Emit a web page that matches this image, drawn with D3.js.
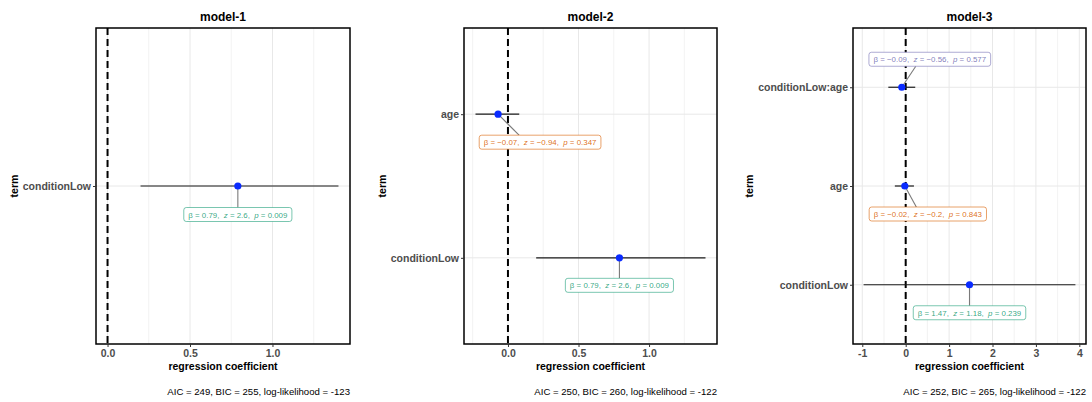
<!DOCTYPE html>
<html>
<head>
<meta charset="utf-8">
<script src="https://cdn.jsdelivr.net/npm/d3@7"></script>
<style>
  html, body { margin: 0; padding: 0; background: #ffffff; }
  svg { display: block; font-family: "Liberation Sans", Arial, sans-serif; }
</style>
</head>
<body>
<svg id="chart" width="1092" height="402"></svg>
<script>
// ---- model results ----
const modelNames = ["model-1", "model-2", "model-3"];
const modelTerms = [
  ["conditionLow"],
  ["conditionLow", "age"],
  ["conditionLow", "age", "conditionLow:age"]
];
const estimates = [[0.79], [0.79, -0.07], [1.47, -0.02, -0.09]];
const ciLower   = [[0.20], [0.20, -0.23], [-0.97, -0.25, -0.40]];
const ciUpper   = [[1.40], [1.40, 0.08], [3.91, 0.19, 0.22]];
const zValues   = [[2.6], [2.6, -0.94], [1.18, -0.2, -0.56]];
const pValues   = ["0.009", "0.009", "0.347", "0.239", "0.843", "0.577"];
const tickValues = [[0, 0.5, 1.0], [0, 0.5, 1.0], [-1, 0, 1, 2, 3, 4]];
const tickLabels = [["0.0", "0.5", "1.0"], ["0.0", "0.5", "1.0"], ["-1", "0", "1", "2", "3", "4"]];
const captions = [
  "AIC = 249, BIC = 255, log-likelihood = -123",
  "AIC = 250, BIC = 260, log-likelihood = -122",
  "AIC = 252, BIC = 265, log-likelihood = -122"
];
const termColors = ["#1B9E77", "#D95F02", "#7570B3"];

// ---- layout ----
const panelBoxes = [
  { left: 96,  right: 350 },
  { left: 464, right: 717 },
  { left: 853, right: 1086 }
];
const panelTop = 28, panelBottom = 344;
// label box offsets from each point (px), per panel / term
const labelOffsets = [
  [[0, 28.5]],
  [[0, 27.5], [42, 28]],
  [[0, 28], [23, 28], [28, -28]]
];

const svg = d3.select("#chart");
const fmtNum = v => (v < 0 ? "\u2212" : "") + String(Math.abs(v));
let pIndex = 0;

modelNames.forEach((name, m) => {
  const box = panelBoxes[m];
  const terms = modelTerms[m];
  const est = estimates[m], lo = ciLower[m], hi = ciUpper[m];

  // x domain: data range including zero, expanded by 5%
  const minV = Math.min(0, d3.min(lo)), maxV = Math.max(0, d3.max(hi));
  const pad = (maxV - minV) * 0.05;
  const x = d3.scaleLinear().domain([minV - pad, maxV + pad]).range([box.left, box.right]);

  // discrete y with 0.6 expansion on each side
  const y = d3.scaleLinear()
    .domain([1 - 0.6, terms.length + 0.6])
    .range([panelBottom, panelTop]);
  const yOf = i => y(i + 1);

  const g = svg.append("g");

  // grid
  const ticks = tickValues[m];
  const step = ticks[1] - ticks[0];
  const minor = [];
  for (let v = ticks[0] - step / 2; v <= x.domain()[1]; v += step) {
    if (v >= x.domain()[0]) minor.push(v);
  }
  g.selectAll(".minor").data(minor).enter().append("line")
    .attr("x1", d => x(d)).attr("x2", d => x(d))
    .attr("y1", panelTop).attr("y2", panelBottom)
    .attr("stroke", "#EFEFEF").attr("stroke-width", 0.8);
  g.selectAll(".major").data(ticks).enter().append("line")
    .attr("x1", d => x(d)).attr("x2", d => x(d))
    .attr("y1", panelTop).attr("y2", panelBottom)
    .attr("stroke", "#E8E8E8").attr("stroke-width", 1);
  g.selectAll(".hgrid").data(terms).enter().append("line")
    .attr("x1", box.left).attr("x2", box.right)
    .attr("y1", (d, i) => yOf(i)).attr("y2", (d, i) => yOf(i))
    .attr("stroke", "#E8E8E8").attr("stroke-width", 1);

  // zero reference line
  g.append("line")
    .attr("x1", x(0)).attr("x2", x(0))
    .attr("y1", panelTop).attr("y2", panelBottom)
    .attr("stroke", "#000").attr("stroke-width", 2)
    .attr("stroke-dasharray", "7,4");

  // confidence intervals
  g.selectAll(".ci").data(terms).enter().append("line")
    .attr("x1", (d, i) => x(lo[i])).attr("x2", (d, i) => x(hi[i]))
    .attr("y1", (d, i) => yOf(i)).attr("y2", (d, i) => yOf(i))
    .attr("stroke", "#1a1a1a").attr("stroke-width", 1.2);

  // labels with connectors
  terms.forEach((t, i) => {
    const px = x(est[i]), py = yOf(i);
    const [dx, dy] = labelOffsets[m][i];
    const cx = px + dx, cy = py + dy;
    const color = termColors[i];
    const lg = g.append("g");
    const txt = lg.append("text")
      .attr("x", cx).attr("y", cy + 3)
      .attr("text-anchor", "middle")
      .attr("font-size", 7.9)
      .style("white-space", "pre")
      .attr("fill", color).attr("fill-opacity", 0.9);
    txt.append("tspan").text("\u03B2 = " + fmtNum(est[i]) + ",  ");
    txt.append("tspan").attr("font-style", "italic").text("z");
    txt.append("tspan").text(" = " + fmtNum(zValues[m][i]) + ",  ");
    txt.append("tspan").attr("font-style", "italic").text("p");
    txt.append("tspan").text(" = " + pValues[pIndex++]);
    const w = txt.node().getComputedTextLength() + 9;
    const h = 14;
    const top = cy - h / 2, bottom = cy + h / 2;
    // connector to the box edge facing the point
    const ex = px + dx * 0.5;
    const ey = dy > 0 ? top : bottom;
    lg.insert("line", "text")
      .attr("x1", px).attr("y1", py).attr("x2", ex).attr("y2", ey)
      .attr("stroke", "#7a7a7a").attr("stroke-width", 1.1);
    lg.insert("rect", "text")
      .attr("x", cx - w / 2).attr("y", top)
      .attr("width", w).attr("height", h)
      .attr("rx", 2.5)
      .attr("fill", "#fff")
      .attr("stroke", color).attr("stroke-opacity", 0.65).attr("stroke-width", 0.9);
  });

  // points
  g.selectAll(".pt").data(terms).enter().append("circle")
    .attr("cx", (d, i) => x(est[i])).attr("cy", (d, i) => yOf(i))
    .attr("r", 3.6).attr("fill", "#0A2BFF");

  // panel border
  g.append("rect")
    .attr("x", box.left).attr("y", panelTop)
    .attr("width", box.right - box.left).attr("height", panelBottom - panelTop)
    .attr("fill", "none").attr("stroke", "#000").attr("stroke-width", 1.5);

  // x axis
  const xAxis = d3.axisBottom(x).tickValues(ticks)
    .tickFormat((d, k) => tickLabels[m][k]).tickSize(3).tickPadding(3);
  const xa = g.append("g").attr("transform", `translate(0,${panelBottom})`).call(xAxis);
  xa.select(".domain").remove();
  xa.selectAll("line").attr("stroke", "#333");
  xa.selectAll("text").attr("fill", "#4D4D4D").attr("font-size", 10.5)
    .attr("font-weight", "bold").attr("font-family", "Liberation Sans, Arial, sans-serif");

  // y axis
  const yAxis = d3.axisLeft(y).tickValues(terms.map((d, i) => i + 1))
    .tickFormat((d) => terms[d - 1]).tickSize(3).tickPadding(2);
  const ya = g.append("g").attr("transform", `translate(${box.left},0)`).call(yAxis);
  ya.select(".domain").remove();
  ya.selectAll("line").attr("stroke", "#333");
  ya.selectAll("text").attr("fill", "#4D4D4D").attr("font-size", 10.5)
    .attr("font-weight", "bold").attr("font-family", "Liberation Sans, Arial, sans-serif");
  let maxW = 0;
  ya.selectAll("text").each(function () { maxW = Math.max(maxW, this.getComputedTextLength()); });

  // titles
  g.append("text")
    .attr("x", (box.left + box.right) / 2).attr("y", 21)
    .attr("text-anchor", "middle").attr("font-size", 12).attr("font-weight", "bold")
    .attr("fill", "#000").text(name);
  g.append("text")
    .attr("x", (box.left + box.right) / 2).attr("y", 370)
    .attr("text-anchor", "middle").attr("font-size", 10.5).attr("font-weight", "bold")
    .attr("fill", "#000").text("regression coefficient");
  const tx = box.left - 5 - maxW - 5;
  g.append("text")
    .attr("transform", `translate(${tx},${(panelTop + panelBottom) / 2}) rotate(-90)`)
    .attr("text-anchor", "middle").attr("font-size", 10.5).attr("font-weight", "bold")
    .attr("fill", "#000").text("term");
  g.append("text")
    .attr("x", box.right).attr("y", 394.5)
    .attr("text-anchor", "end").attr("font-size", 9.6)
    .attr("fill", "#000").text(captions[m]);
});
</script>
</body>
</html>
